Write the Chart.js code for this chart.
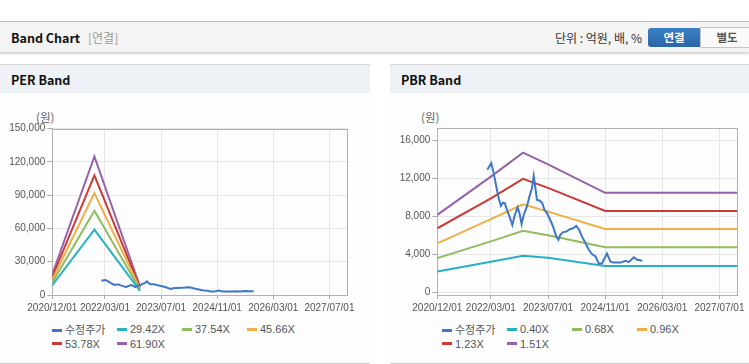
<!DOCTYPE html>
<html><head><meta charset="utf-8">
<script src="https://cdn.jsdelivr.net/npm/chart.js@4.4.1/dist/chart.umd.min.js"></script>
<style>
html,body{margin:0;padding:0;background:#fff;width:749px;height:364px;overflow:hidden;font-family:"Liberation Sans",Arial,"Noto Sans CJK KR",sans-serif;}
#topline{position:absolute;left:0;top:21px;width:749px;height:1px;background:#bcbcbc;}
#hdr{position:absolute;left:0;top:22px;width:749px;height:30px;background:#f4f4f4;box-shadow:0 2px 2px rgba(0,0,0,0.18);}
#hdr .t{position:absolute;left:11px;top:8px;font-size:12.5px;font-weight:bold;color:#111;font-family:"Noto Sans CJK KR","Liberation Sans",sans-serif;line-height:16px;}
#hdr .s{position:absolute;left:88px;top:8px;font-size:12px;color:#9a9a9a;font-family:"Noto Sans CJK KR",sans-serif;line-height:16px;}
#hdr .u{position:absolute;right:107px;top:8px;font-size:12px;color:#333;font-family:"Noto Sans CJK KR",sans-serif;line-height:16px;}
#b1{position:absolute;left:648px;top:6px;width:52px;height:19px;background:linear-gradient(#3b7fc4,#2a66a8);border-radius:3px 0 0 3px;color:#fff;font-weight:bold;font-size:11.5px;text-align:center;line-height:19px;font-family:"Noto Sans CJK KR",sans-serif;}
#b2{position:absolute;left:700px;top:5px;width:52px;height:19px;background:#fafafa;border:1px solid #c6c6c6;border-radius:0 3px 3px 0;color:#555;font-weight:bold;font-size:11.5px;text-align:center;line-height:19px;font-family:"Noto Sans CJK KR",sans-serif;}
.panel{position:absolute;top:64px;height:298px;background:#fdfdfd;border-top:1px solid #d6d6d6;border-bottom:1px solid #cfcfcf;}
.ph{position:absolute;left:0;top:0;right:0;height:28px;background:#eef1f6;}
.ph span{position:absolute;left:11px;top:7px;font-size:12.5px;font-weight:bold;color:#111;font-family:"Noto Sans CJK KR","Liberation Sans",sans-serif;line-height:16px;}
.unit{position:absolute;top:109px;font-size:11.5px;color:#666;font-family:"Noto Sans CJK KR",sans-serif;line-height:16px;}
canvas{position:absolute;}
.lg{position:absolute;font-size:11px;color:#555;font-family:"Liberation Sans",Arial,"Noto Sans CJK KR",sans-serif;}
.lg .it{position:absolute;white-space:nowrap;line-height:14px;}
.lg .mk{display:inline-block;width:10px;height:3px;vertical-align:middle;margin-right:3px;position:relative;top:-1px;}
.lg .ko{font-family:"Noto Sans CJK KR",sans-serif;font-size:11px;}
</style></head>
<body>
<div id="topline"></div>
<div id="hdr"><div class="t">Band Chart</div><div class="s">[연결]</div><div class="u">단위 : 억원, 배, %</div><div id="b1">연결</div><div id="b2">별도</div></div>
<div class="panel" style="left:0;width:370px;"><div class="ph"><span>PER Band</span></div></div>
<div class="panel" style="left:390px;width:359px;"><div class="ph"><span>PBR Band</span></div></div>
<div class="unit" style="left:36px;">(원)</div>
<div class="unit" style="left:421px;">(원)</div>
<canvas id="c1" width="370" height="210" style="left:0;top:110px;"></canvas>
<canvas id="c2" width="359" height="210" style="left:390px;top:110px;"></canvas>
<div class="lg" id="lg1"></div>
<div class="lg" id="lg2"></div>
<script>
// ---- x axis: months since 2020/12 ----
const tickMonths = [0, 15, 31, 47, 63, 79];
const tickLabels = ['2020/12/01', '2022/03/01', '2023/07/01', '2024/11/01', '2026/03/01', '2027/07/01'];

// ---- 수정주가 (adjusted price) ----
const priceMonths = [14.0,15.1,15.7,16.7,17.2,17.8,18.4,18.9,19.5,20.2,21.0,21.7,22.5,23.0,23.6,24.2,25.1,25.8,26.5,27.0,27.4,27.9,28.7,29.4,30.0,30.7,31.6,32.4,33.3,33.9,34.4,35.2,36.1,37.1,38.0,38.9,39.7,40.5,41.5,42.4,43.3,44.3,45.2,46.1,47.5,48.5,49.4,51.3,52.7,53.6,55.0,56.0,57.4];
const priceValues = [12900,13600,12700,10800,9900,9100,9450,9400,8700,8000,7100,8150,8950,8350,7200,8150,9050,10100,10950,12250,11150,9750,9650,9400,8700,8350,7650,6950,5900,5550,6050,6350,6400,6650,6750,7000,6600,5900,5200,4500,4050,3800,3050,3050,4100,3250,3150,3150,3350,3200,3700,3450,3350];

// ---- PER band ----
const perMonths = [0, 12, 25];
const perTickValues = [0, 30000, 60000, 90000, 120000, 150000];
const per2942 = [8800, 59000, 3700];
const per3754 = [11200, 76000, 4700];
const per4566 = [13800, 92000, 5700];
const per5378 = [16300, 108000, 6700];
const per6190 = [18700, 125000, 7700];

// ---- PBR band ----
const pbrMonths = [0, 15, 24, 31, 47, 84];
const pbrTickValues = [0, 4000, 8000, 12000, 16000];
const pbr040 = [2220, 3250, 3870, 3650, 2790, 2790];
const pbr068 = [3620, 5380, 6500, 6020, 4770, 4770];
const pbr096 = [5170, 7720, 9280, 8500, 6680, 6680];
const pbr123 = [6750, 9900, 11950, 11000, 8580, 8580];
const pbr151 = [8160, 12180, 14700, 13470, 10480, 10480];

const C = {price:'#3d77c6', c1:'#25b1c3', c2:'#8fbc5e', c3:'#f0ae45', c4:'#cc3a36', c5:'#9561a8'};

function pts(xs, ys){ return xs.map((x,i)=>({x:x, y:ys[i]})); }
function ds(label, xs, ys, color){
  return {label, data:pts(xs,ys), borderColor:color, backgroundColor:color, borderWidth:2, pointRadius:0, tension:0, fill:false};
}
const boxPlugin = {
  id:'box',
  beforeDatasetsDraw(chart){
    const a = chart.chartArea, ctx = chart.ctx;
    ctx.save(); ctx.strokeStyle = '#b2b2b2'; ctx.lineWidth = 1;
    ctx.strokeRect(Math.round(a.left)+0.5, Math.round(a.top)+0.5, Math.round(a.right-a.left), Math.round(a.bottom-a.top));
    ctx.restore();
  }
};
const tickFont = {family:'"Liberation Sans",Arial,sans-serif', size:10};

function makeChart(id, datasets, yTicks, yMin, yMax, yWidth, padTop, padRight){
  return new Chart(document.getElementById(id), {
    type:'line',
    data:{datasets},
    options:{
      responsive:false, animation:false,
      layout:{padding:{top:padTop, right:padRight, left:0, bottom:0}},
      plugins:{legend:{display:false}, tooltip:{enabled:false}},
      scales:{
        x:{type:'linear', min:0, max:84,
          afterBuildTicks:(s)=>{ s.ticks = tickMonths.map(v=>({value:v})); },
          afterFit:(s)=>{ s.height = 25; },
          ticks:{autoSkip:false, maxRotation:0, color:'#555', font:tickFont, padding:3,
            callback:(v)=>{ const i = tickMonths.indexOf(v); return i>=0 ? tickLabels[i] : ''; }},
          grid:{color:'#e6e6e6', tickColor:'#aaa', tickLength:4},
          border:{color:'#aaa'}
        },
        y:{type:'linear', min:yMin, max:yMax,
          afterBuildTicks:(s)=>{ s.ticks = yTicks.map(v=>({value:v})); },
          afterFit:(s)=>{ s.width = yWidth; },
          ticks:{color:'#555', font:tickFont, padding:2,
            callback:(v)=>v.toLocaleString('en-US')},
          grid:{color:'#e6e6e6', tickColor:'#aaa', tickLength:5},
          border:{color:'#aaa'}
        }
      }
    },
    plugins:[boxPlugin]
  });
}

makeChart('c1', [
  ds('수정주가', priceMonths, priceValues, C.price),
  ds('29.42X', perMonths, per2942, C.c1),
  ds('37.54X', perMonths, per3754, C.c2),
  ds('45.66X', perMonths, per4566, C.c3),
  ds('53.78X', perMonths, per5378, C.c4),
  ds('61.90X', perMonths, per6190, C.c5)
], perTickValues, 0, 150000, 52.3, 18.7, 23);

makeChart('c2', [
  ds('수정주가', priceMonths, priceValues, C.price),
  ds('0.40X', pbrMonths, pbr040, C.c1),
  ds('0.68X', pbrMonths, pbr068, C.c2),
  ds('0.96X', pbrMonths, pbr096, C.c3),
  ds('1.23X', pbrMonths, pbr123, C.c4),
  ds('1.51X', pbrMonths, pbr151, C.c5)
], pbrTickValues, -250, 17250, 47.3, 18.3, 11.7);

function legend(id, left, labels){
  const el = document.getElementById(id);
  el.style.left = left+'px'; el.style.top = '322px';
  const cols = [C.price, C.c1, C.c2, C.c3, C.c4, C.c5];
  labels.forEach((lb,i)=>{
    const d = document.createElement('div'); d.className='it';
    d.style.left = ((i%4)*65)+'px'; d.style.top = (Math.floor(i/4)*14.5)+'px';
    const m = document.createElement('span'); m.className='mk'; m.style.background = cols[i];
    const t = document.createElement('span'); t.textContent = lb; if(i===0) t.className='ko';
    d.appendChild(m); d.appendChild(t); el.appendChild(d);
  });
}
legend('lg1', 52, ['수정주가','29.42X','37.54X','45.66X','53.78X','61.90X']);
legend('lg2', 442, ['수정주가','0.40X','0.68X','0.96X','1.23X','1.51X']);
</script>
</body></html>
